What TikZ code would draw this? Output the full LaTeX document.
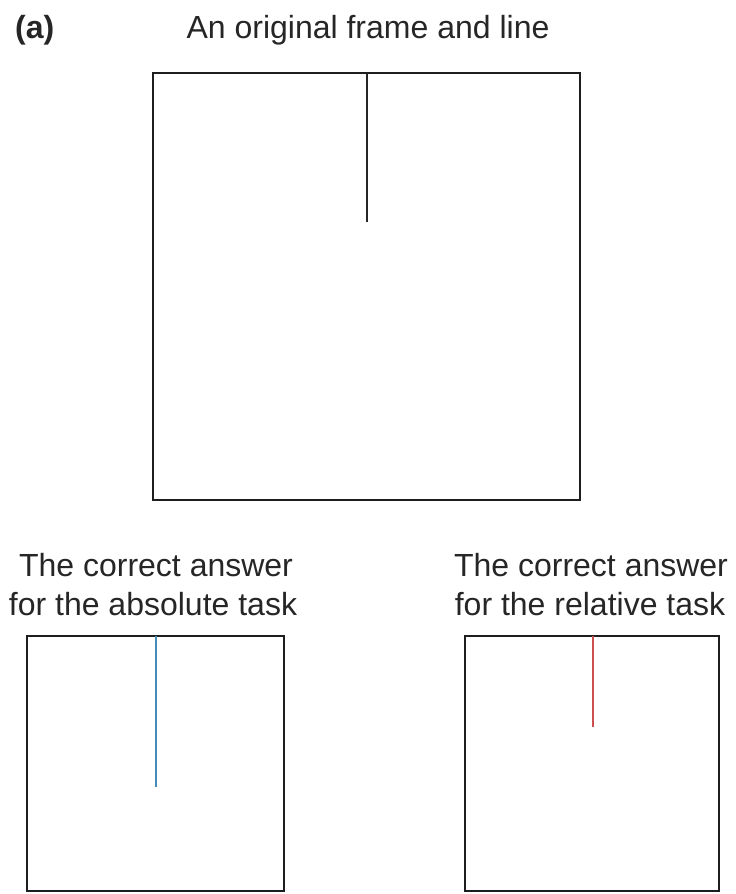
\documentclass[tikz,border=0pt]{standalone}
\usepackage{fontspec}
\setmainfont{Liberation Sans}
\definecolor{absblue}{RGB}{70,140,185}
\definecolor{relred}{RGB}{205,80,80}
\definecolor{framegray}{RGB}{30,30,30}
\begin{document}
\begin{tikzpicture}[x=1pt,y=-1pt,
  frame/.style={draw=framegray,line width=2pt},
  mark line/.style={line width=2pt},
  label text/.style={font=\fontsize{32}{40}\selectfont,text=black!85,inner sep=0pt,align=center,anchor=base}]
\useasboundingbox[fill=white] (0,0) rectangle (736,894);
% labels
\node[label text,font=\fontsize{32}{40}\selectfont\bfseries,anchor=base west] (lab) at (15,38) {(a)};
\node[label text] (title) at (368,38) {An original frame and line};
\node[label text] (absA) at (156,576) {The correct answer};
\node[label text] (absB) at (153,615) {for the absolute task};
\node[label text] (relA) at (591,576) {The correct answer};
\node[label text] (relB) at (590,615) {for the relative task};
% big frame
\draw[frame] (153,73) rectangle (580,500);
\coordinate (ot) at (367,73);
\coordinate (ob) at (367,222);
\draw[mark line,black!85] (ot) -- (ob);
% absolute frame
\draw[frame] (27,636) rectangle (284,891);
\coordinate (at) at (156,636);
\coordinate (ab) at (156,787);
\draw[mark line,absblue] (at) -- (ab);
% relative frame
\draw[frame] (465,636) rectangle (719,891);
\coordinate (rt) at (593,636);
\coordinate (rb) at (593,727);
\draw[mark line,relred] (rt) -- (rb);
\end{tikzpicture}
\end{document}
